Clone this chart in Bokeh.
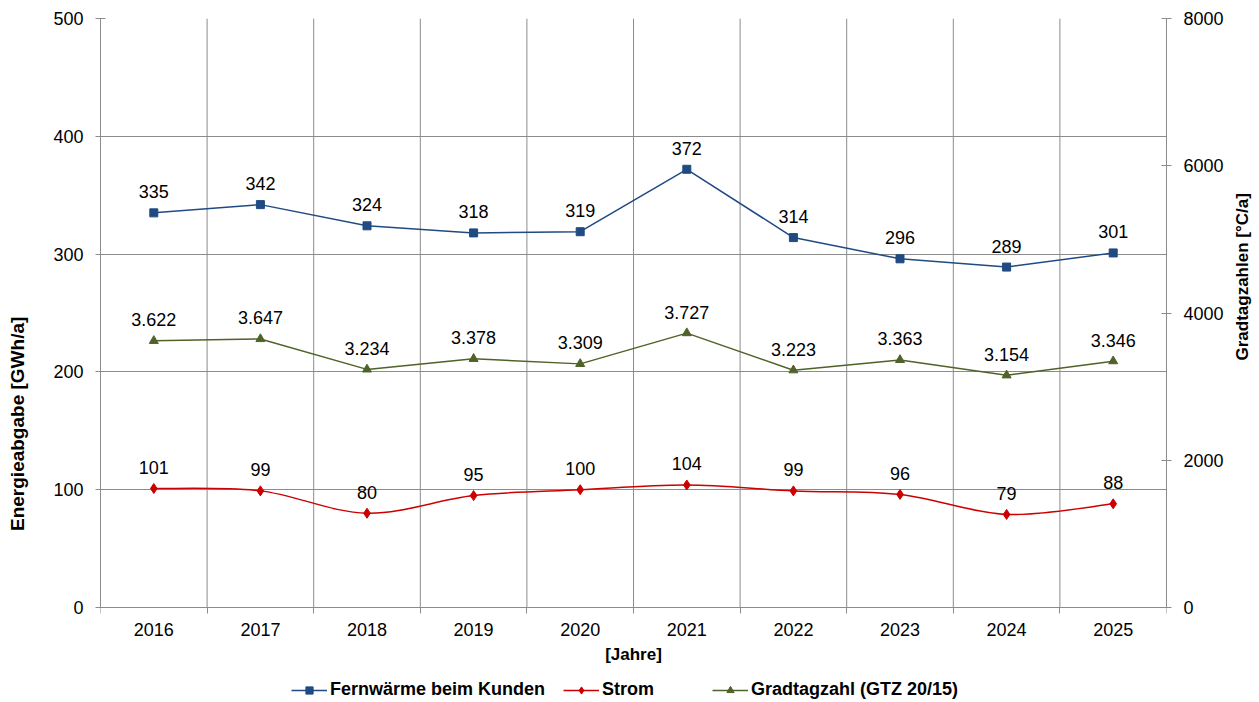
import math
from bokeh.plotting import figure
from bokeh.models import (Range1d, LinearAxis, FixedTicker, Legend, LegendItem,
                          ColumnDataSource)
from bokeh.core.properties import value
from bokeh.embed import file_html
from bokeh.resources import INLINE

years = ["2016", "2017", "2018", "2019", "2020", "2021", "2022", "2023", "2024", "2025"]
fernwaerme = [335, 342, 324, 318, 319, 372, 314, 296, 289, 301]
strom = [101, 99, 80, 95, 100, 104, 99, 96, 79, 88]
gtz = [3622, 3647, 3234, 3378, 3309, 3727, 3223, 3363, 3154, 3346]
left_ticks = [0, 100, 200, 300, 400, 500]
right_ticks = [0, 2000, 4000, 6000, 8000]

FONT = "Liberation Sans"
BLUE = "#1F4A82"
RED = "#CC0000"
GREEN = "#4F6228"
GRID = "#8C8C8C"
NB = "\u00a0"

# layout (pixels): plot area 1066 x 589, extra strip below it for axis texts + legend
PLOT_H = 589
BELOW_H = 95
ext = BELOW_H / PLOT_H

n = len(years)
xs = [i + 0.5 for i in range(n)]
bounds_x = list(range(n + 1))

p = figure(frame_width=1066, frame_height=PLOT_H + BELOW_H, output_backend="svg",
           toolbar_location=None,
           x_range=Range1d(0, n),
           y_range=Range1d(-left_ticks[-1] * ext, left_ticks[-1]),
           min_border_left=100, min_border_right=93, min_border_top=18, min_border_bottom=0)
p.outline_line_color = None
p.background_fill_color = "white"

# x axis drawn at y = 0; labels at centres, tick marks at category boundaries
xax = p.xaxis[0]
xax.fixed_location = 0
xax.ticker = FixedTicker(ticks=xs, minor_ticks=bounds_x)
xax.major_label_overrides = {x: y for x, y in zip(xs, years)}
xax.major_tick_in = 0
xax.major_tick_out = 0
xax.minor_tick_in = 0
xax.minor_tick_out = 6
xax.major_label_standoff = 9
xax.axis_label = "[Jahre]"
xax.axis_label_standoff = 6

p.xgrid.visible = False
p.segment(x0=bounds_x, y0=[left_ticks[0]] * len(bounds_x), x1=bounds_x,
          y1=[left_ticks[-1]] * len(bounds_x), line_color=GRID, line_width=1)

yax = p.yaxis[0]
yax.ticker = FixedTicker(ticks=left_ticks)
yax.bounds = (left_ticks[0], left_ticks[-1])
yax.major_tick_in = 5
yax.major_tick_out = 5
yax.major_label_standoff = 12
yax.axis_label = "Energieabgabe [GWh/a]" + NB * 24
yax.axis_label_standoff = 22
p.ygrid.ticker = FixedTicker(ticks=left_ticks)
p.ygrid.grid_line_color = GRID

p.extra_y_ranges = {"gtz": Range1d(-right_ticks[-1] * ext, right_ticks[-1])}
rax = LinearAxis(y_range_name="gtz", ticker=FixedTicker(ticks=right_ticks))
rax.bounds = (right_ticks[0], right_ticks[-1])
rax.major_tick_in = 5
rax.major_tick_out = 5
rax.major_label_standoff = 12
rax.axis_label = "Gradtagzahlen [°C/a]" + NB * 14
rax.axis_label_standoff = 16
rax.axis_label_orientation = math.pi / 2
p.add_layout(rax, "right")

for ax in [xax, yax, rax]:
    ax.axis_line_color = GRID
    ax.major_tick_line_color = GRID
    ax.minor_tick_line_color = GRID if ax is xax else None
    ax.major_label_text_font = FONT
    ax.major_label_text_font_size = "18px"
    ax.major_label_text_color = "black"
    ax.axis_label_text_font = FONT
    ax.axis_label_text_font_size = "17px"
    ax.axis_label_text_font_style = "bold"
    ax.axis_label_text_color = "black"
yax.axis_label_text_font_size = "19px"
rax.axis_label_text_align = "center"

# Fernwärme
src_f = ColumnDataSource(dict(x=xs, y=fernwaerme, t=[str(v) for v in fernwaerme]))
l_f = p.line("x", "y", source=src_f, line_color=BLUE, line_width=1.5)
s_f = p.scatter("x", "y", source=src_f, marker="square", size=8, fill_color=BLUE, line_color=BLUE)
p.text("x", "y", text="t", source=src_f, text_align="center", text_baseline="middle",
       y_offset=-21, text_font=value(FONT), text_font_size="18px", text_color="black")

# Strom (smoothed line via Bezier segments, Catmull-Rom control points)
def ctrl(vals_x, vals_y):
    m = len(vals_x)
    c = dict(x0=[], y0=[], x1=[], y1=[], cx0=[], cy0=[], cx1=[], cy1=[])
    for i in range(m - 1):
        im1 = max(i - 1, 0)
        ip2 = min(i + 2, m - 1)
        c["x0"].append(vals_x[i]); c["y0"].append(vals_y[i])
        c["x1"].append(vals_x[i + 1]); c["y1"].append(vals_y[i + 1])
        c["cx0"].append(vals_x[i] + (vals_x[i + 1] - vals_x[im1]) / 6)
        c["cy0"].append(vals_y[i] + (vals_y[i + 1] - vals_y[im1]) / 6)
        c["cx1"].append(vals_x[i + 1] - (vals_x[ip2] - vals_x[i]) / 6)
        c["cy1"].append(vals_y[i + 1] - (vals_y[ip2] - vals_y[i]) / 6)
    return c

src_sb = ColumnDataSource(ctrl(xs, strom))
l_s = p.bezier(x0="x0", y0="y0", x1="x1", y1="y1", cx0="cx0", cy0="cy0", cx1="cx1", cy1="cy1",
               source=src_sb, line_color=RED, line_width=1.5)
src_s = ColumnDataSource(dict(x=xs, y=strom, t=[str(v) for v in strom]))
s_s = p.scatter("x", "y", source=src_s, marker="diamond", size=10, fill_color=RED, line_color=RED)
p.text("x", "y", text="t", source=src_s, text_align="center", text_baseline="middle",
       y_offset=-21, text_font=value(FONT), text_font_size="18px", text_color="black")

# Gradtagzahl
src_g = ColumnDataSource(dict(x=xs, y=gtz, t=[f"{v:,}".replace(",", ".") for v in gtz]))
l_g = p.line("x", "y", source=src_g, line_color=GREEN, line_width=1.5, y_range_name="gtz")
s_g = p.scatter("x", "y", source=src_g, marker="triangle", size=9, fill_color=GREEN,
                line_color=GREEN, y_range_name="gtz")
p.text("x", "y", text="t", source=src_g, text_align="center", text_baseline="middle",
       y_offset=-21, text_font=value(FONT), text_font_size="18px", text_color="black",
       y_range_name="gtz")

legend = Legend(items=[
    LegendItem(label="Fernwärme beim Kunden", renderers=[l_f, s_f]),
    LegendItem(label="Strom" + NB * 8, renderers=[l_s, s_s]),
    LegendItem(label="Gradtagzahl (GTZ 20/15)", renderers=[l_g, s_g]),
], orientation="horizontal", location=(191, 2))
legend.label_text_font = FONT
legend.label_text_font_size = "18px"
legend.label_text_font_style = "bold"
legend.label_text_color = "black"
legend.glyph_width = 36
legend.glyph_height = 18
legend.label_height = 18
legend.label_standoff = 3
legend.spacing = 18
legend.padding = 0
legend.margin = 0
legend.border_line_color = None
legend.background_fill_alpha = 0
p.add_layout(legend)

open("out.html", "w").write(file_html(p, INLINE))
